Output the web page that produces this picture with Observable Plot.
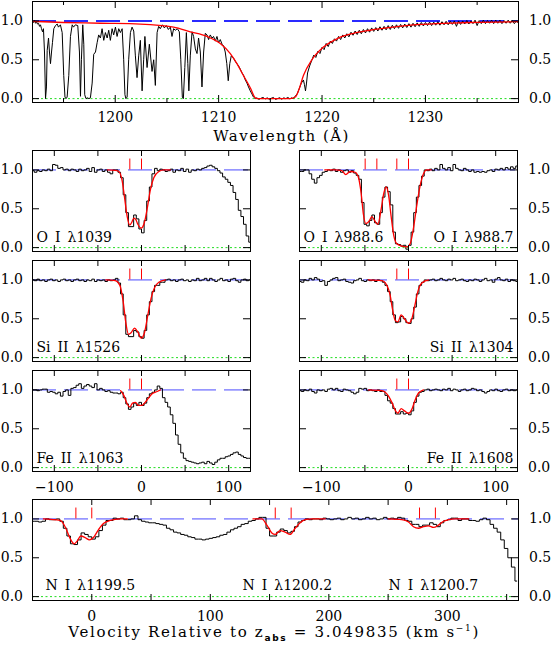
<!DOCTYPE html>
<html><head><meta charset="utf-8">
<script src="https://cdn.jsdelivr.net/npm/d3@7"></script>
<script src="https://cdn.jsdelivr.net/npm/@observablehq/plot@0.6"></script>
<style>
html,body{margin:0;padding:0;background:#fff;}
#root{position:relative;width:551px;height:646px;overflow:hidden;background:#fff;font-family:"DejaVu Serif",serif;}
#root svg{position:absolute;left:0;}
</style></head>
<body><div id="root"></div>
<script>
// ---------------- DATA ----------------
// Top panel: wavelength (Å) and normalised flux
const topWave = [1192.00,1192.10,1192.19,1192.29,1192.39,1192.48,1192.58,1192.68,1192.77,1192.87,1192.97,1193.06,1193.16,1193.26,1193.35,1193.42,1193.55,1193.64,1193.74,1193.84,1193.93,1194.06,1194.22,1194.39,1194.51,1194.70,1194.87,1195.02,1195.14,1195.24,1195.35,1195.51,1195.67,1195.84,1195.96,1196.15,1196.38,1196.54,1196.64,1196.73,1196.86,1196.96,1197.05,1197.17,1197.31,1197.46,1197.60,1197.77,1197.92,1198.09,1198.25,1198.40,1198.57,1198.73,1198.89,1199.05,1199.22,1199.37,1199.53,1199.70,1199.85,1200.02,1200.18,1200.34,1200.50,1200.67,1200.82,1200.94,1201.03,1201.15,1201.30,1201.47,1201.63,1201.79,1201.95,1202.11,1202.27,1202.43,1202.60,1202.75,1202.87,1203.08,1203.30,1203.56,1203.72,1203.88,1204.05,1204.20,1204.36,1204.56,1204.75,1204.94,1205.14,1205.33,1205.49,1205.65,1205.81,1206.01,1206.20,1206.34,1206.49,1206.59,1206.73,1206.88,1207.02,1207.12,1207.26,1207.43,1207.58,1207.75,1207.91,1208.06,1208.23,1208.39,1208.55,1208.71,1208.88,1209.03,1209.19,1209.36,1209.51,1209.68,1209.84,1209.99,1210.16,1210.33,1210.48,1210.64,1210.79,1210.93,1211.08,1211.22,1211.45,1211.61,1211.77,1211.93,1212.09,1212.26,1212.41,1212.58,1212.74,1212.89,1213.06,1213.22,1213.37,1213.54,
1213.7,1213.9,1214.1,1214.3,1214.5,1214.7,1214.9,1215.1,1215.3,1215.5,1215.7,1215.9,1216.1,1216.3,1216.5,1216.7,1216.9,
1217.0,1217.2,1217.4,1217.6,1217.8,1218.0,1218.2,1218.3,1218.4,1218.5,1218.6,1218.8,1219.0,1219.2,1219.4,1219.6,1219.8,1220.0,1220.2,1220.4,1220.6,1220.8,1221.0,1221.2,1221.4,1221.6,1221.8,1222.0,1222.2,1222.4,1222.6,1222.8,1223.0,1223.2,1223.4,1223.6,1223.8,1224.0,1224.2,1224.4,1224.6,1224.8,1225.0,1225.2,1225.4,1225.6,1225.8,1226.0,1226.2,1226.4,1226.6,1226.8,1227.0,1227.2,1227.4,1227.6,1227.8,1228.0,1228.2,1228.4,1228.6,1228.8,1229.0,1229.2,1229.4,1229.6,1229.8,1230.0,1230.2,1230.4,1230.6,1230.8,1231.0,1231.2,1231.4,1231.6,1231.8,1232.0,1232.2,1232.4,1232.6,1232.8,1233.0,1233.2,1233.4,1233.6,1233.8,1234.0,1234.2,1234.4,1234.6,1234.8,1235.0,1235.2,1235.4,1235.6,1235.8,1236.0,1236.2,1236.4,1236.6,1236.8,1237.0,1237.2,1237.4,1237.6,1237.8,1238.0,1238.2,1238.4,1238.6,1238.8,1239.0];
const topFlux = [1.00,0.98,1.01,0.97,0.99,0.96,0.97,0.93,0.95,0.90,0.86,0.90,0.60,0.00,0.15,0.62,0.78,0.60,0.45,0.60,0.72,0.90,0.94,0.96,0.92,0.95,0.85,0.30,0.02,0.00,0.02,0.30,0.80,0.95,0.92,0.95,0.94,0.60,0.03,0.50,0.95,0.70,0.05,0.00,0.01,0.00,0.01,0.20,0.57,0.60,0.72,0.82,0.78,0.90,0.75,0.85,0.78,0.88,0.75,0.90,0.82,0.92,0.80,0.90,0.85,0.90,0.50,0.05,0.00,0.02,0.50,0.85,0.92,0.87,0.55,0.27,0.55,0.75,0.10,0.50,0.80,0.40,0.70,0.35,0.50,0.17,0.85,0.93,0.90,0.95,0.91,0.94,0.89,0.92,0.80,0.90,0.88,0.90,0.86,0.50,0.02,0.00,0.40,0.85,0.45,0.10,0.55,0.86,0.80,0.64,0.58,0.78,0.60,0.15,0.60,0.84,0.82,0.76,0.82,0.78,0.80,0.74,0.80,0.72,0.76,0.70,0.68,0.60,0.45,0.23,0.45,0.55,0.52,0.48,0.45,0.42,0.38,0.33,0.30,0.24,0.20,0.15,0.10,0.06,0.02,0.00,
0.01,-0.01,0.005,0.015,-0.005,0.01,-0.01,0.005,0.015,-0.01,0.00,0.012,-0.008,0.01,0.00,0.015,-0.005,
0.01,0.00,0.03,0.06,0.13,0.20,0.24,0.18,0.10,0.20,0.33,0.42,0.49,0.56,0.53,0.61,0.58,0.66,0.63,0.71,0.67,0.74,0.71,0.77,0.74,0.80,0.76,0.82,0.78,0.835,0.795,0.855,0.815,0.87,0.825,0.88,0.835,0.89,0.845,0.90,0.855,0.91,0.865,0.915,0.87,0.925,0.88,0.93,0.885,0.94,0.89,0.945,0.90,0.95,0.905,0.955,0.91,0.96,0.915,0.965,0.92,0.97,0.925,0.975,0.93,0.98,0.935,0.98,0.94,0.985,0.94,0.985,0.945,0.99,0.945,0.99,0.95,0.995,0.95,0.995,0.955,1.00,0.93,1.00,0.955,1.00,0.96,1.005,0.96,1.00,0.965,1.01,0.94,1.005,0.965,1.01,0.965,1.005,0.97,1.01,0.965,1.01,0.97,1.01,0.965,1.005,0.97,1.01,0.97,1.005,0.965,1.00,0.97];
const topFitWave = [1192.0,1195.0,1198.57,1202.43,1205.65,1207.26,1208.88,1210.16,1211.13,1211.77,1212.41,1213.06,1213.54,1213.73,1214.5,1215.5,1216.5,1216.92,1217.41,1217.72,1218.21,1219.02,1220.11,1221.43,1223.04,1224.65,1226.26,1227.87,1229.48,1231.09,1234.31,1239.0];
const topFitFlux = [0.995,0.98,0.97,0.96,0.92,0.86,0.80,0.71,0.58,0.45,0.295,0.14,0.01,0.0,0.0,0.0,0.0,0.0,0.02,0.10,0.30,0.50,0.66,0.77,0.84,0.88,0.91,0.935,0.955,0.965,0.98,0.99];
const topTicksMajor = [1200,1210,1220,1230];
const topTicksMinor = [1195,1205,1215,1225,1235];

// Velocity grid (km/s) shared by the six metal-line panels
const velGrid = [-124.5,-121.5,-118.5,-115.5,-112.5,-109.5,-106.5,-103.5,-100.5,-97.5,
-94.5,-91.5,-88.5,-85.5,-82.5,-79.5,-76.5,-73.5,-70.5,-67.5,
-64.5,-61.5,-58.5,-55.5,-52.5,-49.5,-46.5,-43.5,-40.5,-37.5,
-34.5,-31.5,-28.5,-25.5,-22.5,-19.5,-16.5,-13.5,-10.5,-7.5,
-4.5,-1.5,1.5,4.5,7.5,10.5,13.5,16.5,19.5,22.5,
25.5,28.5,31.5,34.5,37.5,40.5,43.5,46.5,49.5,52.5,
55.5,58.5,61.5,64.5,67.5,70.5,73.5,76.5,79.5,82.5,
85.5,88.5,91.5,94.5,97.5,100.5,103.5,106.5,109.5,112.5,
115.5,118.5,121.5,124.5];

const fluxOI1039 = [0.99,0.97,0.99,0.98,1.00,0.99,1.01,0.99,1.07,1.06,
1.02,1.03,1.00,1.01,0.99,1.01,1.00,0.98,1.01,0.99,
1.00,1.02,0.98,1.03,0.97,1.00,1.01,0.98,1.00,0.97,
0.95,1.00,1.00,0.97,0.90,0.68,0.45,0.27,0.27,0.42,
0.37,0.24,0.19,0.35,0.60,0.78,0.95,1.02,0.99,1.01,
1.00,0.98,0.99,1.01,0.97,1.00,0.99,1.02,0.98,1.01,
0.97,1.00,0.99,1.01,1.00,1.02,1.03,1.05,1.06,1.04,
1.02,0.99,0.96,0.91,0.88,0.84,0.80,0.71,0.62,0.48,
0.40,0.30,0.15,0.07];
const fluxOI988 = [0.98,0.98,1.00,1.00,0.95,0.88,0.83,0.90,0.93,0.97,
0.98,1.00,0.99,1.01,0.98,1.00,0.97,0.99,1.00,0.97,
0.99,0.96,0.93,0.88,0.58,0.30,0.28,0.35,0.42,0.32,
0.30,0.45,0.65,0.78,0.72,0.55,0.20,0.05,0.04,0.02,
0.03,-0.02,0.03,0.20,0.45,0.65,0.80,0.92,1.00,0.99,
1.01,0.99,1.02,1.00,1.07,1.02,1.00,1.03,0.99,1.07,
1.02,1.00,0.99,1.02,1.00,0.98,1.00,0.97,0.98,0.97,
0.98,0.97,0.99,1.00,0.98,1.01,1.00,1.02,1.00,1.03,
1.01,1.04,1.02,1.05];
const fluxSiII1526 = [1.00,0.99,1.01,0.99,1.00,0.98,1.00,1.01,0.99,1.00,
0.98,1.00,1.01,0.99,1.00,0.98,1.00,1.01,0.99,1.00,
0.98,1.00,0.99,1.01,0.98,1.00,0.99,1.00,0.98,1.00,
0.99,1.00,1.02,0.96,0.82,0.55,0.30,0.27,0.27,0.35,
0.33,0.27,0.25,0.35,0.55,0.72,0.85,0.93,0.93,0.97,
0.97,1.00,1.01,0.99,1.00,0.98,1.00,1.01,0.99,1.00,
0.98,1.00,0.99,1.02,0.99,1.00,1.02,0.99,1.02,1.00,
0.98,1.00,1.02,0.99,1.00,0.98,1.01,1.02,0.99,0.97,
1.00,1.01,0.99,1.00];
const fluxSiII1304 = [0.98,0.97,1.00,0.99,1.02,1.00,1.03,1.01,0.98,0.99,
0.93,0.98,1.00,1.02,1.03,0.99,1.00,1.01,0.98,0.97,
0.96,0.99,1.00,1.02,0.99,0.98,1.00,0.99,1.00,0.98,
1.00,0.99,0.97,0.93,0.85,0.72,0.55,0.45,0.46,0.53,
0.50,0.45,0.44,0.50,0.65,0.82,0.93,0.97,1.00,0.99,
1.00,1.01,0.99,1.00,1.02,1.00,0.99,1.01,1.00,1.02,
0.99,1.00,1.01,0.99,0.98,1.00,0.99,1.01,1.00,0.98,
1.00,1.02,0.99,1.00,0.97,1.01,1.03,1.00,0.99,1.01,
0.98,1.00,0.99,0.98];
const fluxFeII1063 = [1.00,1.00,0.99,1.00,1.01,1.01,0.97,0.98,0.97,0.95,
0.97,0.92,0.98,1.00,0.93,1.02,1.03,1.06,1.08,1.02,
1.05,1.07,1.05,1.03,1.08,1.00,1.02,1.00,0.98,0.99,
0.97,0.96,0.96,0.95,0.97,0.90,0.82,0.75,0.78,0.83,
0.80,0.84,0.80,0.83,0.90,0.95,0.97,1.00,1.05,1.02,
0.90,0.84,0.78,0.68,0.57,0.42,0.30,0.19,0.12,0.09,
0.08,0.07,0.06,0.05,0.06,0.07,0.05,0.08,0.06,0.04,
0.07,0.10,0.12,0.12,0.14,0.15,0.17,0.19,0.20,0.17,
0.15,0.13,0.12,0.12];
const fluxFeII1608 = [0.99,0.98,1.00,0.99,1.01,0.98,0.96,1.00,0.99,1.00,
0.98,1.01,1.02,1.00,1.02,0.99,0.98,1.01,1.00,0.99,
0.97,0.95,0.97,1.02,1.01,1.02,0.99,1.00,0.99,0.98,
1.00,0.98,0.98,0.93,0.86,0.83,0.76,0.69,0.69,0.72,
0.69,0.70,0.68,0.73,0.84,0.92,0.97,0.98,1.00,1.01,
0.99,1.00,1.01,1.00,0.99,1.01,1.00,1.02,0.99,1.01,
1.00,0.98,1.00,1.01,0.99,1.00,1.02,1.01,0.99,1.00,
0.98,0.96,0.98,1.00,0.99,1.01,0.99,0.98,1.00,1.01,
0.99,1.00,0.99,1.00];

// Voigt-profile fits (velocity, flux)
const fitOI1039Vel = [-39,-30,-26,-22,-19.5,-16.4,-13.4,-11,-8.8,-6.5,-4.2,-0.4,2.7,4.5,6.5,10.3,14.1,19.9,26,33];
const fitOI1039Flux = [1.0,0.995,0.98,0.85,0.65,0.40,0.29,0.33,0.38,0.36,0.30,0.25,0.30,0.38,0.50,0.75,0.90,0.98,1.0,1.0];
const fitOI988Vel = [-96,-84,-76.5,-71.9,-66.9,-61.2,-57.3,-54.3,-51.6,-48.9,-45.1,-42,-39,-35.2,-31.3,-28.3,-25.6,-22.9,-19.9,-16.8,-13.4,-7.6,-1.9,1.9,5.7,9.6,13.4,17.2,21,26];
const fitOI988Flux = [1.0,1.0,0.99,0.94,0.98,0.97,0.90,0.70,0.42,0.31,0.34,0.40,0.35,0.30,0.50,0.70,0.78,0.68,0.40,0.15,0.05,0.02,0.01,0.05,0.25,0.55,0.80,0.95,1.0,1.0];
const fitSiII1526Vel = [-41,-30,-24.8,-21,-18,-14.9,-11.9,-8,-4.2,-0.4,3.4,7.3,11.1,14.9,19.9,27.5];
const fitSiII1526Flux = [1.0,0.99,0.93,0.72,0.45,0.30,0.32,0.38,0.33,0.25,0.32,0.55,0.77,0.90,0.97,1.0];
const fitSiII1304Vel = [-45.9,-30.6,-24.8,-21,-18.3,-15.3,-12.2,-8.4,-4.6,0,3.8,6.9,10.7,15.3,23];
const fitSiII1304Flux = [1.0,0.99,0.93,0.80,0.62,0.48,0.46,0.55,0.50,0.44,0.50,0.65,0.85,0.96,1.0];
const fitFeII1063Vel = [-24,-20.3,-16.4,-13.4,-10.3,-6.9,-3.4,0.4,4.2,8.4,12.2,18,21.8];
const fitFeII1063Flux = [0.99,0.93,0.82,0.78,0.83,0.84,0.80,0.80,0.84,0.90,0.95,0.98,1.0];
const fitFeII1608Vel = [-45.9,-30.6,-22.9,-19.1,-15.3,-12.2,-8.4,-4.6,0,3.8,7.6,11.5,17.2];
const fitFeII1608Flux = [1.0,0.99,0.92,0.84,0.74,0.70,0.76,0.73,0.70,0.75,0.87,0.96,1.0];

// Velocity components (km/s)
const compsSingle = [-13.4, 0];
const compsOI988 = [-49.7, -36.3, -13.4, 0];
const compsNI = [-13.4, 0, 154.8, 168.2, 276.5, 289.9];

// N I panel
const velNI = [-49.5,-46.5,-43.5,-40.5,-37.5,-34.5,-31.5,-28.5,-25.5,-22.5,
-19.5,-16.5,-13.5,-10.5,-7.5,-4.5,-1.5,1.5,4.5,7.5,
10.5,13.5,16.5,19.5,22.5,25.5,28.5,31.5,34.5,37.5,
40.5,43.5,46.5,49.5,52.5,55.5,58.5,61.5,64.5,67.5,
70.5,73.5,76.5,79.5,82.5,85.5,88.5,91.5,94.5,97.5,
100.5,103.5,106.5,109.5,112.5,115.5,118.5,121.5,124.5,127.5,
130.5,133.5,136.5,139.5,142.5,145.5,148.5,151.5,154.5,157.5,
160.5,163.5,166.5,169.5,172.5,175.5,178.5,181.5,184.5,187.5,
190.5,193.5,196.5,199.5,202.5,205.5,208.5,211.5,214.5,217.5,
220.5,223.5,226.5,229.5,232.5,235.5,238.5,241.5,244.5,247.5,
250.5,253.5,256.5,259.5,262.5,265.5,268.5,271.5,274.5,277.5,
280.5,283.5,286.5,289.5,292.5,295.5,298.5,301.5,304.5,307.5,
310.5,313.5,316.5,319.5,322.5,325.5,328.5,331.5,334.5,337.5,
340.5,343.5,346.5,349.5,352.5,355.5,358.5];
const fluxNI = [0.97,0.97,0.96,0.97,1.00,0.99,0.99,1.00,0.97,0.88,
0.78,0.68,0.67,0.73,0.82,0.80,0.77,0.74,0.77,0.85,
0.92,0.98,0.98,1.01,1.00,1.01,0.99,0.99,1.00,1.04,
0.99,0.97,0.96,0.95,0.95,0.94,0.93,0.92,0.88,0.86,
0.83,0.82,0.80,0.79,0.77,0.76,0.74,0.74,0.73,0.74,
0.75,0.76,0.77,0.79,0.80,0.83,0.86,0.88,0.90,0.93,
0.94,0.97,0.98,1.00,1.02,1.02,0.88,0.78,0.78,0.83,
0.87,0.85,0.82,0.84,0.90,0.96,0.98,1.00,0.99,1.00,
1.00,0.99,1.01,1.00,0.99,1.00,1.01,0.99,1.00,1.02,
1.00,1.01,0.99,1.00,1.02,1.00,1.01,0.99,1.00,1.02,
1.00,1.01,1.00,1.02,1.01,0.98,0.97,0.93,0.93,0.90,
0.92,0.92,0.95,0.93,0.90,0.95,0.98,0.99,1.01,1.01,
0.98,1.00,1.00,0.98,0.98,0.97,0.99,1.01,0.99,0.93,
0.88,0.83,0.73,0.62,0.50,0.38,0.20];
const fitNISegment = ["1199.5","1199.5","1199.5","1199.5","1199.5","1199.5","1199.5","1199.5","1199.5","1199.5","1199.5","1199.5","1199.5","1199.5","1199.5",
"1200.2","1200.2","1200.2","1200.2","1200.2","1200.2","1200.2","1200.2","1200.2","1200.2","1200.2","1200.2","1200.2",
"1200.7","1200.7","1200.7","1200.7","1200.7","1200.7","1200.7","1200.7","1200.7","1200.7","1200.7","1200.7","1200.7"];
const fitNIVel = [-40.8,-26.7,-22.5,-18.3,-14.9,-12.1,-9.3,-5.6,-2,1.4,5.6,9.8,15.5,23.9,30,
136,143.5,147.7,151.9,154.7,158.9,163.1,167.3,171.6,175.8,180,185.6,197,
250.3,261.6,267.2,271.4,275.6,279.9,284.1,288.3,292.5,296.8,301,306.6,318];
const fitNIFlux = [1.0,0.98,0.90,0.75,0.68,0.72,0.78,0.76,0.73,0.76,0.86,0.94,0.98,1.0,1.0,
1.0,1.0,0.92,0.82,0.80,0.85,0.83,0.80,0.88,0.95,0.99,1.0,1.0,
1.0,0.99,0.96,0.90,0.88,0.90,0.91,0.89,0.92,0.97,0.99,1.0,1.0];

const yTicks = [0, 0.5, 1];
const velTicks = [-100, -50, 0, 50, 100];
const velLabels = [-100, 0, 100];
const niTicks = [0, 50, 100, 150, 200, 250, 300, 350];
const niLabels = [0, 100, 200, 300];

// ---------------- DRAWING ----------------
const W = 551;
const Y_DOMAIN = [-0.05, 1.25];
const MARK_LO = 1.0, MARK_HI = 1.14;
const root = document.getElementById("root");
const fmtY = d3.format(".1f");
const fmtX = d => d < 0 ? "\u2212" + (-d) : String(d);

function rows(xs, ys, extra) {
  return xs.map((x, i) => ({x, y: ys[i], z: extra ? extra[i] : 0}));
}

function addPanel(cfg) {
  const {x0, x1, y0, y1, xDomain, marks, xMajor, xMinor = [], labelsX = null, labelPad = 10,
         left = false, right = false, majorLen = 6, minorLen = 4, yLen = 7} = cfg;
  const mt = 4, mb = 32;
  const fw = x1 - x0, fh = y1 - y0;
  const m = [...marks];
  m.push(Plot.ruleX(xMajor, {insetTop: fh - majorLen, stroke: "black"}));
  m.push(Plot.ruleX(xMajor, {insetBottom: fh - majorLen, stroke: "black"}));
  if (xMinor.length) {
    m.push(Plot.ruleX(xMinor, {insetTop: fh - minorLen, stroke: "black"}));
    m.push(Plot.ruleX(xMinor, {insetBottom: fh - minorLen, stroke: "black"}));
  }
  m.push(Plot.ruleY(yTicks, {insetRight: fw - yLen, stroke: "black"}));
  m.push(Plot.ruleY(yTicks, {insetLeft: fw - yLen, stroke: "black"}));
  if (labelsX) m.push(Plot.axisX(labelsX, {anchor: "bottom", tickSize: 0, tickPadding: labelPad, tickFormat: fmtX, label: null}));
  if (left) m.push(Plot.axisY(yTicks, {anchor: "left", tickSize: 0, tickPadding: 9.5, tickFormat: fmtY, label: null}));
  if (right) m.push(Plot.axisY(yTicks, {anchor: "right", tickSize: 0, tickPadding: 10.5, tickFormat: fmtY, label: null}));
  m.push(Plot.frame({stroke: "black", strokeWidth: 1}));
  const svg = Plot.plot({
    width: W, height: fh + mt + mb,
    marginTop: mt, marginBottom: mb, marginLeft: x0, marginRight: W - x1,
    x: {domain: xDomain, axis: null},
    y: {domain: Y_DOMAIN, axis: null},
    style: {fontFamily: "'DejaVu Serif', serif", fontSize: "14px", background: "transparent", color: "black", overflow: "visible"},
    marks: m
  });
  svg.style.position = "absolute";
  svg.style.left = "0px";
  svg.style.top = (y0 - mt) + "px";
  root.appendChild(svg);
}

function baseLines(blueW, blueColor) {
  return [
    Plot.ruleY([0], {stroke: "#22dd22", strokeWidth: 1, strokeDasharray: "2,2.5"}),
    Plot.ruleY([1], {stroke: blueColor, strokeWidth: blueW, strokeDasharray: "24,8"})
  ];
}

function label(text, side, dy) {
  return Plot.text([text], {
    text: d => d,
    frameAnchor: side === "left" ? "bottom-left" : "bottom-right",
    textAnchor: side === "left" ? "start" : "end",
    lineAnchor: "bottom",
    dx: side === "left" ? 4 : -4, dy, fontSize: 14, fill: "black"
  });
}

function metalPanel(col, row, flux, fitV, fitF, comps, labels, withXLabels) {
  const x0 = col === 0 ? 32 : 299, x1 = x0 + 218;
  const y0 = [150, 260, 370][row], y1 = y0 + 101;
  const marks = [
    ...baseLines(1, "#4a4aff"),
    Plot.line(rows(velGrid, flux), {x: "x", y: "y", curve: "step", stroke: "black", strokeWidth: 1, clip: true}),
    Plot.line(rows(fitV, fitF), {x: "x", y: "y", curve: "monotone-x", stroke: "red", strokeWidth: 1.3, clip: true}),
    Plot.ruleX(comps, {y1: MARK_LO, y2: MARK_HI, stroke: "red", strokeWidth: 1}),
    ...labels
  ];
  addPanel({x0, x1, y0, y1, xDomain: [-125, 125], marks, xMajor: velTicks,
            labelsX: withXLabels ? velLabels : null, labelPad: 11,
            left: col === 0, right: col === 1});
}

// Top panel (Lyman alpha)
addPanel({
  x0: 32, x1: 518, y0: 1, y1: 102, xDomain: [1192, 1239],
  xMajor: topTicksMajor, xMinor: topTicksMinor, majorLen: 7, minorLen: 4,
  labelsX: topTicksMajor, labelPad: 10, left: true, right: true,
  marks: [
    ...baseLines(2, "#2a2aff"),
    Plot.line(rows(topWave, topFlux), {x: "x", y: "y", stroke: "black", strokeWidth: 1, clip: true}),
    Plot.line(rows(topFitWave, topFitFlux), {x: "x", y: "y", curve: "monotone-x", stroke: "red", strokeWidth: 1.3, clip: true})
  ]
});

const ES = "\u2002";
metalPanel(0, 0, fluxOI1039, fitOI1039Vel, fitOI1039Flux, compsSingle, [label("O" + ES + "I" + ES + "λ1039", "left", -10)], false);
metalPanel(1, 0, fluxOI988, fitOI988Vel, fitOI988Flux, compsOI988, [label("O" + ES + "I" + ES + "λ988.6", "left", -10), label("O" + ES + "I" + ES + "λ988.7", "right", -10)], false);
metalPanel(0, 1, fluxSiII1526, fitSiII1526Vel, fitSiII1526Flux, compsSingle, [label("Si" + ES + "II" + ES + "λ1526", "left", -10)], false);
metalPanel(1, 1, fluxSiII1304, fitSiII1304Vel, fitSiII1304Flux, compsSingle, [label("Si" + ES + "II" + ES + "λ1304", "right", -10)], false);
metalPanel(0, 2, fluxFeII1063, fitFeII1063Vel, fitFeII1063Flux, compsSingle, [label("Fe" + ES + "II" + ES + "λ1063", "left", -9)], true);
metalPanel(1, 2, fluxFeII1608, fitFeII1608Vel, fitFeII1608Flux, compsSingle, [label("Fe" + ES + "II" + ES + "λ1608", "right", -9)], true);

// Bottom panel (N I triplet)
addPanel({
  x0: 32, x1: 518, y0: 499, y1: 600, xDomain: [-50, 360],
  xMajor: niTicks, labelsX: niLabels, labelPad: 11, left: true, right: true,
  marks: [
    ...baseLines(1, "#4a4aff"),
    Plot.line(rows(velNI, fluxNI), {x: "x", y: "y", curve: "step", stroke: "black", strokeWidth: 1, clip: true}),
    Plot.line(rows(fitNIVel, fitNIFlux, fitNISegment), {x: "x", y: "y", z: "z", curve: "monotone-x", stroke: "red", strokeWidth: 1.3, clip: true}),
    Plot.ruleX(compsNI, {y1: MARK_LO, y2: MARK_HI, stroke: "red", strokeWidth: 1}),
    Plot.text(["N" + ES + "I" + ES + "λ1199.5"], {text: d => d, frameAnchor: "bottom-left", textAnchor: "start", lineAnchor: "bottom", dx: 13, dy: -11, fontSize: 14}),
    Plot.text(["N" + ES + "I" + ES + "λ1200.2"], {text: d => d, frameAnchor: "bottom-left", textAnchor: "start", lineAnchor: "bottom", dx: 210, dy: -11, fontSize: 14}),
    Plot.text(["N" + ES + "I" + ES + "λ1200.7"], {text: d => d, frameAnchor: "bottom-left", textAnchor: "start", lineAnchor: "bottom", dx: 356, dy: -11, fontSize: 14})
  ]
});

// Axis titles
const ov = d3.create("svg").attr("width", W).attr("height", 646)
  .style("position", "absolute").style("left", "0px").style("top", "0px")
  .attr("font-family", "'DejaVu Serif', serif").attr("fill", "black");
ov.append("text").attr("x", 280.8).attr("y", 141).attr("text-anchor", "middle")
  .attr("font-size", 15).attr("textLength", 135).attr("lengthAdjust", "spacing")
  .text("Wavelength (Å)");
const vt = ov.append("text").attr("x", 273.3).attr("y", 637).attr("text-anchor", "middle")
  .attr("font-size", 15).attr("textLength", 410).attr("lengthAdjust", "spacing");
vt.append("tspan").text("Velocity Relative to z");
vt.append("tspan").attr("font-family", "'DejaVu Sans', sans-serif").attr("font-weight", "bold").attr("font-size", 9).attr("dy", 4).text("abs");
vt.append("tspan").attr("dy", -4).text(" = 3.049835 (km s");
vt.append("tspan").attr("font-size", 9).attr("dy", -6).text("\u22121");
vt.append("tspan").attr("dy", 6).text(")");
root.appendChild(ov.node());
</script>
</body></html>
